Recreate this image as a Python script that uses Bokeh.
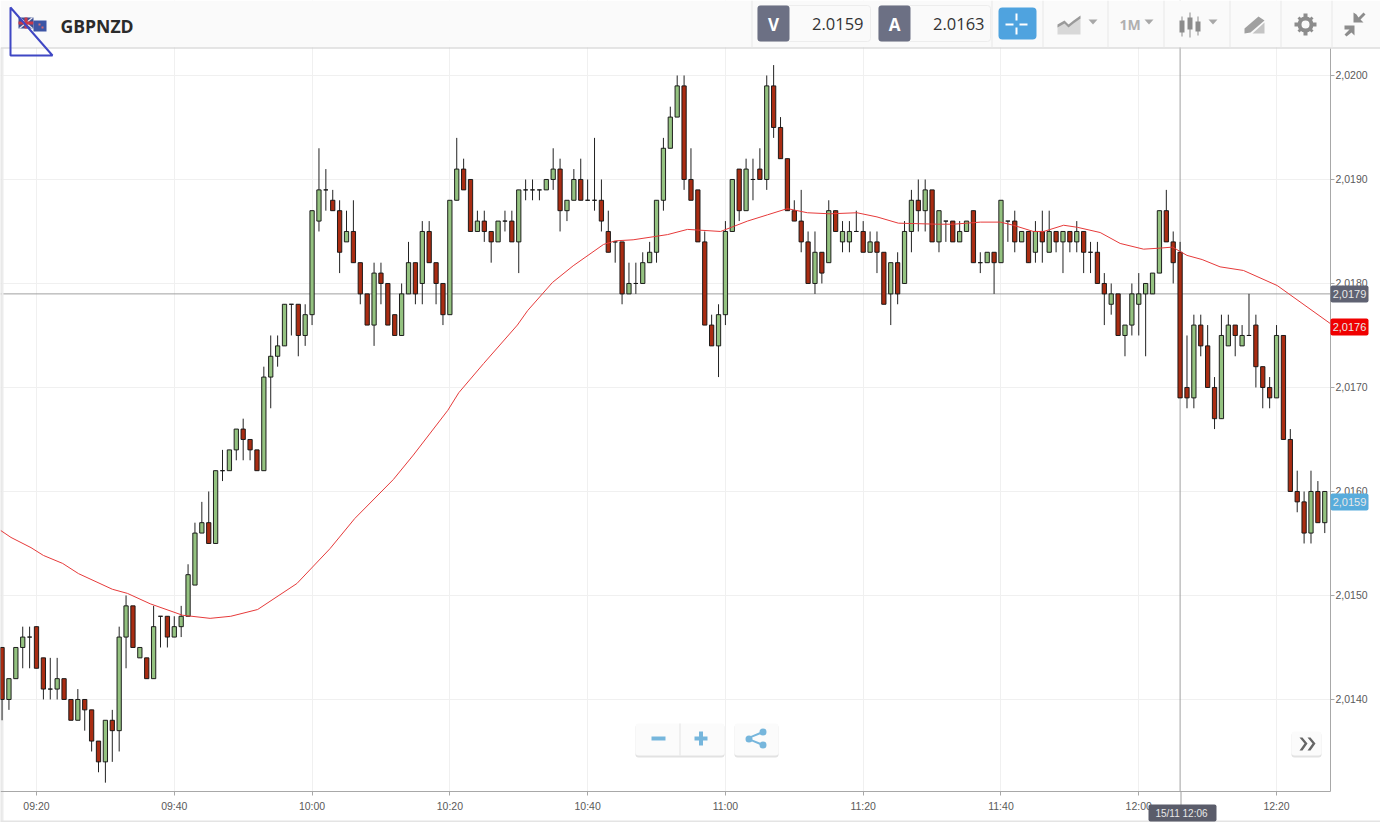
from bokeh.plotting import figure
from bokeh.models import BoxAnnotation, PolyAnnotation, Label, Span, FixedTicker, LinearAxis, Grid
from bokeh.embed import file_html
from bokeh.resources import INLINE

# One candle per minute, starting at 09:15. Values are pips above 2.0000.
opens = [
    145,140,142,145,146,147,144,141,141,142, 140,138,140,139,136,134,138,137,146,149,
    144,144,142,148,148,146,147,148,151,156, 157,155,162,162,164,166,165,164,162,171,
    173,174,178,178,175,177,186,189,188,187, 184,185,182,179,176,181,180,177,175,179,
    182,180,185,182,180,177,188,191,190,185, 186,185,184,186,186,184,189,189,189,189,
    190,191,187,188,190,188,188,188,185,184, 184,179,180,180,182,183,188,193,196,199,
    190,189,184,176,174,177,185,191,187,190, 191,190,199,195,192,187,186,184,180,183,
    182,187,184,184,185,185,183,184,183,179, 182,180,185,188,187,189,184,186,186,184,
    185,187,182,182,183,182,186,186,184,185, 183,185,183,185,184,185,184,185,183,183,
    180,178,179,175,176,178,179,179,181,187, 184,183,170,169,176,174,170,167,174,176,
    174,175,176,172,170,169,175,165,160,159, 156,160,157]
highs = [
    145,142,145,147,147,147,144,144,144,142, 140,141,140,139,136,138,139,147,150,149,
    145,144,149,148,148,148,149,153,157,159, 160,162,164,164,166,167,165,164,172,175,
    175,178,178,178,178,187,193,191,189,188, 187,188,182,179,182,182,180,177,180,184,
    182,186,186,182,180,188,194,192,190,187, 187,185,186,187,187,189,190,190,189,190,
    193,192,188,191,192,190,194,190,187,184, 184,182,182,183,184,188,194,197,200,200,
    193,189,185,177,178,186,190,191,192,192, 193,200,201,196,192,188,189,185,185,183,
    188,187,186,186,187,186,185,185,183,182, 183,186,189,190,190,189,187,186,186,186,
    186,187,183,183,183,188,186,187,185,185, 186,187,187,185,185,185,186,185,184,184,
    181,180,179,176,180,181,180,181,187,189, 185,184,175,177,177,176,171,177,177,176,
    176,179,177,172,171,176,175,166,162,160, 162,161,160]
lows = [
    138,139,142,143,143,143,140,140,140,140, 138,138,137,135,133,132,134,135,143,145,
    144,142,142,145,145,146,146,148,151,156, 155,155,161,162,163,163,163,162,162,168,
    172,174,175,173,174,176,185,187,187,181, 184,182,178,176,174,178,176,175,175,179,
    178,178,182,178,176,177,188,189,185,185, 184,182,184,185,184,181,188,188,188,189,
    189,185,186,188,188,188,187,185,183,182, 178,179,179,180,182,182,187,193,196,189,
    188,184,176,174,171,176,185,186,187,188, 190,189,194,192,187,186,183,180,179,180,
    182,185,183,183,185,183,183,181,178,176, 178,180,183,185,185,184,183,184,184,184,
    185,182,181,182,179,182,184,183,184,182, 182,182,183,183,181,183,183,181,181,180,
    176,177,175,173,175,175,173,179,181,184, 180,169,168,168,173,170,166,167,174,173,
    174,175,170,168,168,169,165,160,158,155, 155,157,156]
closes = [
    140,142,145,146,146,143,141,141,142,140, 138,140,139,136,134,138,137,146,149,145,
    145,142,147,148,146,147,148,152,156,157, 155,162,162,164,166,165,164,162,171,173,
    174,178,178,175,177,187,189,189,187,183, 185,182,179,176,181,180,176,175,179,182,
    179,185,182,180,177,188,191,189,185,186, 185,184,186,186,184,189,189,189,189,190,
    191,187,188,190,188,188,188,186,183,184, 179,180,180,182,183,188,193,196,199,190,
    188,184,176,174,177,185,190,187,191,190, 190,199,195,192,187,186,184,180,183,181,
    187,185,185,185,185,183,184,183,178,182, 179,185,188,187,189,184,187,186,184,185,
    186,182,182,183,182,188,186,184,185,182, 185,184,185,184,185,184,185,183,183,180,
    179,179,175,176,179,179,180,181,187,184, 182,169,169,176,174,170,167,175,176,175,
    175,175,172,170,169,175,165,160,159,156, 160,157,160]

# Moving average: minutes after 09:15, pips above 2.0000.
ma_minutes = [-0.2,1.3,4.2,6.0,8.8,11.1,16.0,18.2,21.5,26.2,30.2,33.2,37.1,42.8,47.6,51.2,
              56.8,59.7,64.7,66.3,69.9,74.8,76.3,79.9,82.9,87.3,89.0,91.6,96.6,99.5,104.3,
              108.2,111.1,114.0,116.9,120.2,124.1,127.0,130.1,135.8,138.1,142.0,144.9,146.8,
              149.7,151.2,154.1,156.1,159.4,162.3,165.7,168.1,169.9,172.0,174.2,176.8,180.2,
              185.1,192.8]
ma_values = [156.25,155.58,154.6,153.85,153.08,152.1,150.6,150.2,149.2,148.1,147.8,148.0,148.65,
             151.15,154.5,157.4,161.15,163.5,167.8,169.5,172.3,176.0,177.4,180.1,181.7,183.75,
             184.1,184.2,184.7,185.2,185.0,186.0,186.6,187.2,186.8,186.7,186.8,186.4,185.8,185.7,
             185.7,185.9,185.9,185.6,185.0,185.0,185.6,185.4,184.9,183.85,183.3,183.4,183.5,
             182.7,182.3,181.6,181.25,179.8,176.15]

time_ticks = [5,25,45,65,85,105,125,145,165,185]
time_labels = ["09:20","09:40","10:00","10:20","10:40","11:00","11:20","11:40","12:00","12:20"]
price_ticks = [2.0140,2.0150,2.0160,2.0170,2.0180,2.0190,2.0200]
price_labels = ["2,0140","2,0150","2,0160","2,0170","2,0180","2,0190","2,0200"]

symbol = "GBPNZD"
bid = "2.0159"
ask = "2.0163"
cursor_minute = 171
cursor_price = 2.0179
cursor_price_label = "2,0179"
ma_price_label = "2,0176"
last_price_label = "2,0159"
cursor_time_label = "15/11 12:06"

GREEN = "#94c280"
RED = "#a92c12"
FONT = "Liberation Sans"
UI = "Open Sans"
ICON = "#8c8c8c"

def price(v):
    return 2 + v / 10000

minutes = list(range(len(closes)))
body_top = [price(max(o, c)) for o, c in zip(opens, closes)]
body_bot = [price(min(o, c)) for o, c in zip(opens, closes)]
colors = [GREEN if c >= o else RED for o, c in zip(opens, closes)]

X_LEFT, X_AXIS, X_RIGHT = -0.226, 192.83, 200.09
Y_TOP, Y_AXIS, Y_BOTTOM = price(207.21), price(131.15), price(128.17)

p = figure(width=1380, height=822, output_backend="svg", toolbar_location=None,
           x_range=(X_LEFT, X_RIGHT), y_range=(Y_BOTTOM, Y_TOP),
           x_axis_type=None, y_axis_type=None, min_border=0, outline_line_color=None,
           background_fill_color="white", border_fill_color="white")

xaxis = LinearAxis(ticker=FixedTicker(ticks=time_ticks), fixed_location=Y_AXIS, bounds=(X_LEFT, X_AXIS),
                   major_label_overrides=dict(zip(time_ticks, time_labels)))
yaxis = LinearAxis(ticker=FixedTicker(ticks=price_ticks), fixed_location=X_AXIS, bounds=(Y_AXIS, price(202.6)),
                   major_label_overrides=dict(zip(price_ticks, price_labels)))
for ax in (xaxis, yaxis):
    ax.axis_line_color = "#a8a8a8"
    ax.major_tick_line_color = "#a8a8a8"
    ax.major_tick_out = 4
    ax.major_tick_in = 0
    ax.minor_tick_line_color = None
    ax.major_label_text_font = FONT
    ax.major_label_text_font_size = "10.5px"
    ax.major_label_text_color = "#5a5a5a"
yaxis.major_label_standoff = 1
xaxis.major_label_standoff = 4
p.add_layout(xaxis, "below")
p.add_layout(yaxis, "right")
p.add_layout(Grid(dimension=0, ticker=xaxis.ticker, grid_line_color="#f0f0f0"))
p.add_layout(Grid(dimension=1, ticker=yaxis.ticker, grid_line_color="#f0f0f0"))

p.add_layout(Span(location=cursor_price, dimension="width", line_color="#a0a0a0", line_width=1, level="underlay"))
p.add_layout(Span(location=cursor_minute, dimension="height", line_color="#a0a0a0", line_width=1, level="underlay"))


def box(l, t, r, b, fill, line=None, radius=0, alpha=1.0, level="overlay"):
    p.add_layout(BoxAnnotation(left=l, right=r, top=t, bottom=b, left_units="canvas", right_units="canvas",
                               top_units="canvas", bottom_units="canvas", fill_color=fill, fill_alpha=alpha,
                               line_color=line, line_alpha=1.0 if line else 0.0, line_width=1,
                               border_radius=radius, level=level, editable=False))


def poly(xs, ys, fill=None, line=None, width=1):
    p.add_layout(PolyAnnotation(xs=xs, ys=ys, xs_units="canvas", ys_units="canvas",
                                fill_color=fill or "white", fill_alpha=1.0 if fill else 0.0,
                                line_color=line or "white", line_alpha=1.0 if line else 0.0,
                                line_width=width, level="overlay"))


def text(x, y, s, size, color, font=UI, style="normal", align="left"):
    p.add_layout(Label(x=x, y=y, x_units="canvas", y_units="canvas", text=s, text_font=font,
                       text_font_size=size, text_color=color, text_font_style=style, text_align=align,
                       text_baseline="middle", level="overlay"))


# white margins around the plot area and the shaded page edge, under the candles and axes
box(1330, 0, 1380, 822, "white", level="underlay")
box(0, 791, 1380, 822, "white", level="underlay")
box(0, 48, 1, 822, "#d0d0d0", level="underlay")
box(1, 48, 3, 822, "#ececec", level="underlay")

p.segment(minutes, [price(v) for v in highs], minutes, [price(v) for v in lows], line_color="#222222", line_width=1)
p.vbar(minutes, width=0.62, top=body_top, bottom=body_bot, fill_color=colors, line_color="#151515", line_width=0.95)
p.line(ma_minutes, [price(v) for v in ma_values], line_color="#e63a3a", line_width=1)

# bottom strip
box(0, 820, 1380, 822, "#e4e4e4")

# header
box(0, 0, 1380, 47, "#fafafa")
box(0, 47, 1380, 48, "#cccccc")
for x in (751, 991, 1042, 1107, 1163, 1229, 1280, 1331):
    box(x, 0, x + 1, 47, "#e8e8e8")

# flag
box(18, 17, 33, 28, "#3c4f94")
poly([18, 20, 33, 31], [17, 17, 28, 28], fill="#e8e8f0")
poly([31, 33, 20, 18], [17, 17, 28, 28], fill="#e8e8f0")
box(18, 21, 33, 24, "#c8394a")
box(24, 17, 27, 28, "#c8394a")
box(33, 20, 46, 31, "#3c55a5")
box(38, 23, 40, 25, "#d86a70")
box(41, 26, 43, 28, "#d86a70")
text(60, 25, symbol, "17.6px", "#2b2b2b", style="bold")

# annotation triangle drawn over the screenshot
poly([10, 10, 52], [7, 55, 55], line="#3f47c4", width=2)

# bid / ask
box(757, 5, 870, 41, "#fafafa", line="#ededed", radius=3)
box(757, 5, 789, 41, "#6c7084", radius=3)
text(773, 24, "V", "17px", "white", style="bold", align="center")
text(863, 23, bid, "16.5px", "#333333", align="right")
box(878, 5, 990, 41, "#fafafa", line="#ededed", radius=3)
box(878, 5, 910, 41, "#6c7084", radius=3)
text(894, 24, "A", "17px", "white", style="bold", align="center")
text(984, 23, ask, "16.5px", "#333333", align="right")

# crosshair button
box(998, 7, 1036, 39, "#4fa3df", radius=4)
box(1005, 23, 1013, 25, "white")
box(1019, 23, 1027, 25, "white")
box(1015, 13, 1017, 20, "white")
box(1015, 27, 1017, 34, "white")

# chart type icon
poly([1057, 1057, 1064, 1070, 1080, 1080], [34, 26, 22, 25, 17, 34], fill="#d8d8d8")
poly([1057, 1064, 1068, 1073, 1080, 1080, 1073, 1068, 1064, 1057], [24, 20, 24, 20, 15, 18, 23, 27, 23, 27], fill="#9a9a9a")
poly([1088, 1097, 1092.5], [19, 19, 24], fill="#a8a8a8")

# period
text(1119, 24, "1M", "14px", "#b0b0b0", style="bold")
poly([1144, 1153, 1148.5], [19, 19, 24], fill="#a8a8a8")

# candle icon
for cx, t, b, wt, wb in ((1182, 20, 32, 16, 36), (1190, 17, 29, 12, 37), (1198, 21, 31, 16, 35)):
    box(cx - 1, wt, cx, wb, ICON)
    box(cx - 3, t, cx + 2, b, ICON)
poly([1208, 1217, 1212.5], [19, 19, 24], fill="#a8a8a8")

# pencil icon
poly([1244, 1258, 1264, 1250, 1244], [28, 16, 20, 32, 33], fill="#a0a0a0")
poly([1252, 1264, 1264], [33, 33, 22], fill="#c4c4c4")

# settings gear
gx, gy = 1305, 24
box(gx - 8, gy - 8, gx + 8, gy + 8, ICON, radius=8)
box(gx - 2, gy - 11, gx + 2, gy + 11, ICON)
box(gx - 11, gy - 2, gx + 11, gy + 2, ICON)
poly([gx - 8, gx - 6, gx + 8, gx + 6], [gy - 6, gy - 8, gy + 6, gy + 8], fill=ICON)
poly([gx + 6, gx + 8, gx - 6, gx - 8], [gy - 8, gy - 6, gy + 8, gy + 6], fill=ICON)
box(gx - 4, gy - 4, gx + 4, gy + 4, "#fafafa", radius=4)

# compress icon
poly([1353, 1353, 1363, 1360, 1365, 1363, 1358, 1356], [12, 22, 22, 19, 14, 12, 17, 14], fill=ICON)
poly([1344, 1354, 1354, 1351, 1346, 1344, 1349, 1344], [25, 25, 35, 32, 36, 34, 29, 29], fill=ICON)

# bottom controls
def button(l, t, r, b):
    box(l, t + 1, r, b + 2, "#e2e2e2", radius=3)
    box(l, t, r, b, "#fbfbfb", radius=3)


BLUE = "#76b6dc"
button(635, 723, 724, 755)
box(679, 723, 680, 755, "#e4e4e4")
box(651, 736, 665, 740, BLUE)
box(694, 736, 707, 740, BLUE)
box(698.5, 731, 702.5, 745, BLUE)
button(734, 723, 778, 755)
poly([748, 762, 763, 749, 763, 762, 748], [736.5, 730.5, 732.5, 738, 743.5, 745.5, 739.5], fill=BLUE)
box(745, 735, 752, 742, BLUE, radius=4)
box(759, 728, 766, 735, BLUE, radius=4)
box(759, 741, 766, 748, BLUE, radius=4)
button(1291, 731, 1321, 755)
for dx in (0, 8):
    poly([1299 + dx, 1302 + dx, 1307 + dx, 1302 + dx, 1299 + dx, 1304 + dx],
         [737, 737, 743, 750, 750, 743], fill="#666666")

# price flags on the axis
for t, b, fill, s in ((285, 302, "#5f6272", cursor_price_label), (318, 335, "#f00000", ma_price_label),
                      (493, 510, "#58acdc", last_price_label)):
    box(1330, t, 1368, b, fill, radius=2)
    text(1349, (t + b) / 2, s, "11px", "#e8e8e8", font=FONT, align="center")

# crosshair stub and time flag
box(1180, 791, 1181, 805, "#a0a0a0")
box(1148, 804, 1216, 821, "#5a5c6a", radius=2)
text(1181, 813, cursor_time_label, "10px", "#e8e8e8", font=FONT, align="center")

open("out.html", "w").write(file_html(p, INLINE))
